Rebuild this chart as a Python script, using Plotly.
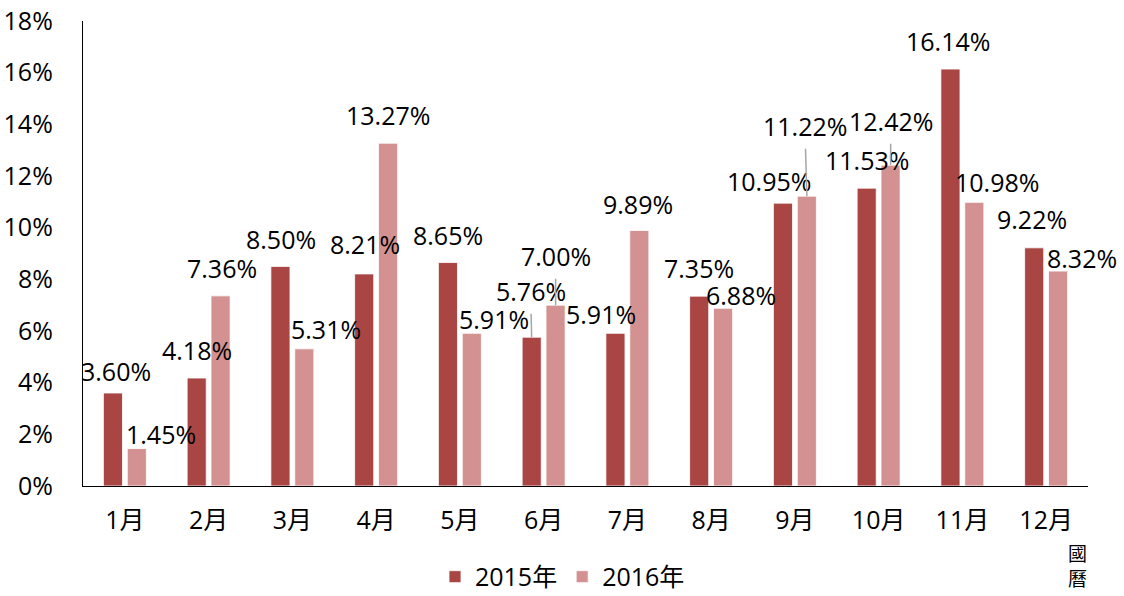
import plotly.graph_objects as go

months = ["1月", "2月", "3月", "4月", "5月", "6月", "7月", "8月", "9月", "10月", "11月", "12月"]
v2015 = [3.60, 4.18, 8.50, 8.21, 8.65, 5.76, 5.91, 7.35, 10.95, 11.53, 16.14, 9.22]
v2016 = [1.45, 7.36, 5.31, 13.27, 5.91, 7.00, 9.89, 6.88, 11.22, 12.42, 10.98, 8.32]
series_names = ["2015年", "2016年"]

# label offsets (pixels, relative to category centre / bar top)
dx2015 = [-9, -12, -11, -11, -12, -13, -26, -12, -26, -12, -14, -14]
dy2015 = [22, 28, 27, 30, 28, 46, 19, 28, 22, 28, 28, 29]
dx2016 = [36, 13, 34, 12, 34, 12, 11, 30, 10, 12, 35, 36]
dy2016 = [15, 28, 20, 28, 14, 49, 27, 13, 70, 44, 20, 13]
leader2015 = [False, False, False, False, False, True, False, False, False, False, False, False]
leader2016 = [False, False, False, False, False, True, False, False, True, True, False, False]

C1 = "#A94644"
C2 = "#D39291"
FONT = "Open Sans, Noto Sans CJK TC, sans-serif"
FS = 25

fig = go.Figure()
fig.add_trace(go.Bar(x=months, y=v2015, name=series_names[0], marker=dict(color=C1, line=dict(color="white", width=0.8))))
fig.add_trace(go.Bar(x=months, y=v2016, name=series_names[1], marker=dict(color=C2, line=dict(color="white", width=0.8))))

BAR_OFF = 12
anns = []
for vals, dxs, dys, leads, side in [(v2015, dx2015, dy2015, leader2015, -1), (v2016, dx2016, dy2016, leader2016, 1)]:
    for m, v, dx, dy, ld in zip(months, vals, dxs, dys, leads):
        txt = f"{v:.2f}%"
        if ld:
            anns.append(dict(x=m, y=v, xref="x", yref="y", text=txt, showarrow=True,
                             arrowhead=0, arrowwidth=1.5, arrowcolor="#A6A6A6",
                             xshift=side * BAR_OFF, ax=dx - side * BAR_OFF, ay=-dy,
                             standoff=0, startstandoff=4,
                             font=dict(family=FONT, size=FS, color="black")))
        else:
            anns.append(dict(x=m, y=v, xref="x", yref="y", text=txt, showarrow=False,
                             xshift=dx, yshift=dy, xanchor="center", yanchor="middle",
                             font=dict(family=FONT, size=FS, color="black")))

anns.append(dict(x=0.99, y=-0.113, xref="paper", yref="paper", text="國<br>曆", showarrow=False,
                 xanchor="center", yanchor="top",
                 font=dict(family=FONT, size=19, color="black")))

fig.update_layout(
    width=1124, height=596,
    margin=dict(l=83, r=36, t=21, b=110),
    plot_bgcolor="white", paper_bgcolor="white",
    barmode="group", bargap=0.43, bargroupgap=0.2,
    font=dict(family=FONT, size=FS, color="black"),
    annotations=anns,
    showlegend=True,
    legend=dict(orientation="h", xref="container", yref="container", x=0.387, y=0.032,
                xanchor="left", yanchor="middle",
                font=dict(family=FONT, size=FS), bgcolor="rgba(0,0,0,0)"),
    xaxis=dict(range=[-0.5, len(months) - 0.5], autorange=False,
               showline=True, linecolor="black", linewidth=1.3, ticks="", showgrid=False,
               ticklabelstandoff=12, tickfont=dict(family=FONT, size=FS), automargin=False),
    yaxis=dict(range=[0, 18], autorange=False, dtick=2, ticksuffix="%", showline=True,
               linecolor="black", linewidth=1.3,
               ticks="", showgrid=False, zeroline=False, ticklabelstandoff=24,
               tickfont=dict(family=FONT, size=FS), automargin=False),
)

fig.write_html("out.html", post_script="document.body.style.margin='0';",
               config={"displayModeBar": False})
